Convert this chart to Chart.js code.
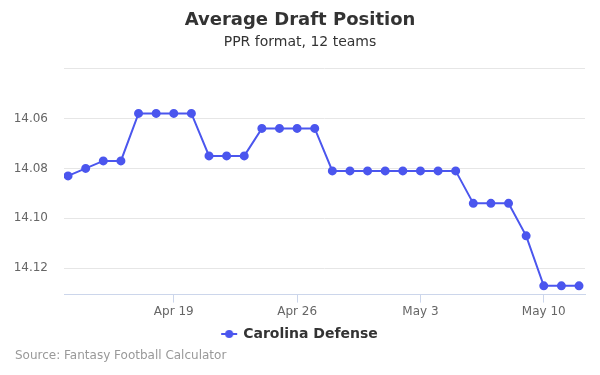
<!DOCTYPE html>
<html>
<head>
<meta charset="utf-8">
<script src="https://cdn.jsdelivr.net/npm/chart.js@4"></script>
<style>
  body { margin: 0; background: #fff; }
  #wrap { position: relative; width: 600px; height: 375px; }
  #source { position: absolute; left: 15px; top: 348px; font: 12px "DejaVu Sans", sans-serif; color: #999; }
</style>
</head>
<body>
<div id="wrap">
  <canvas id="adpChart" width="600" height="375"></canvas>
  <div id="source">Source: Fantasy Football Calculator</div>
</div>
<script>
const dates = ['Apr 13', 'Apr 14', 'Apr 15', 'Apr 16', 'Apr 17', 'Apr 18', 'Apr 19', 'Apr 20', 'Apr 21', 'Apr 22',
    'Apr 23', 'Apr 24', 'Apr 25', 'Apr 26', 'Apr 27', 'Apr 28', 'Apr 29', 'Apr 30', 'May 1', 'May 2',
    'May 3', 'May 4', 'May 5', 'May 6', 'May 7', 'May 8', 'May 9', 'May 10', 'May 11', 'May 12'];
const adp = [14.083, 14.080, 14.077, 14.077, 14.058, 14.058, 14.058, 14.058, 14.075, 14.075,
    14.075, 14.064, 14.064, 14.064, 14.064, 14.081, 14.081, 14.081, 14.081, 14.081,
    14.081, 14.081, 14.081, 14.094, 14.094, 14.094, 14.107, 14.127, 14.127, 14.127];
const tickLabels = ['Apr 19', 'Apr 26', 'May 3', 'May 10'];
const yTicks = [14.04, 14.06, 14.08, 14.10, 14.12];

const lineColour = '#4b56ee';

// legend marker: short line with a dot
const marker = document.createElement('canvas');
marker.width = 18; marker.height = 10;
const mctx = marker.getContext('2d');
mctx.strokeStyle = lineColour; mctx.lineWidth = 2;
mctx.beginPath(); mctx.moveTo(1, 5); mctx.lineTo(17, 5); mctx.stroke();
mctx.fillStyle = lineColour;
mctx.beginPath(); mctx.arc(9, 5, 4, 0, Math.PI * 2); mctx.fill();

Chart.defaults.font.family = '"DejaVu Sans", sans-serif';

const ctx = document.getElementById('adpChart').getContext('2d');
new Chart(ctx, {
    type: 'line',
    data: {
        datasets: [{
            label: 'Carolina Defense',
            data: adp.map((v, i) => ({ x: i, y: v })),
            borderColor: lineColour,
            backgroundColor: lineColour,
            borderWidth: 2,
            pointRadius: 3.5,
            pointHoverRadius: 5,
            pointStyle: 'circle',
            tension: 0
        }]
    },
    options: {
        responsive: false,
        animation: false,
        layout: { padding: { left: 0, right: 0, top: 0, bottom: 24 } },
        scales: {
            x: {
                type: 'linear',
                min: -0.23,
                max: 29.34,
                afterBuildTicks: axis => {
                    axis.ticks = tickLabels.map(t => ({ value: dates.indexOf(t) }));
                },
                ticks: {
                    color: '#666',
                    font: { size: 12 },
                    padding: 2,
                    maxRotation: 0,
                    callback: value => dates[value]
                },
                grid: { drawOnChartArea: false, color: '#ccd6eb', tickLength: 8 },
                border: { color: '#ccd6eb' }
            },
            y: {
                reverse: true,
                min: 14.04,
                max: 14.1305,
                afterBuildTicks: axis => {
                    axis.ticks = yTicks.map(v => ({ value: v }));
                },
                afterFit: axis => { axis.width = 64; },
                ticks: {
                    color: '#666',
                    font: { size: 12 },
                    padding: 16,
                    callback: value => (value === 14.04 ? '' : value.toFixed(2))
                },
                grid: { color: '#e6e6e6', drawTicks: false },
                border: { display: false }
            },
            // empty right-hand spacer so the title stays centred on the page
            spacer: {
                position: 'right',
                afterFit: axis => { axis.width = 15; },
                ticks: { display: false },
                grid: { display: false },
                border: { display: false }
            }
        },
        plugins: {
            title: {
                display: true,
                text: 'Average Draft Position',
                color: '#333',
                font: { size: 18, weight: 'bold' },
                padding: { top: 10, bottom: 2 }
            },
            subtitle: {
                display: true,
                text: 'PPR format, 12 teams',
                color: '#333',
                font: { size: 14, weight: 'normal' },
                padding: { bottom: 18 }
            },
            legend: {
                position: 'bottom',
                labels: {
                    color: '#333',
                    font: { size: 14, weight: 'bold' },
                    usePointStyle: true,
                    pointStyle: marker,
                    padding: 6
                }
            },
            tooltip: { enabled: false }
        }
    }
});
</script>
</body>
</html>
